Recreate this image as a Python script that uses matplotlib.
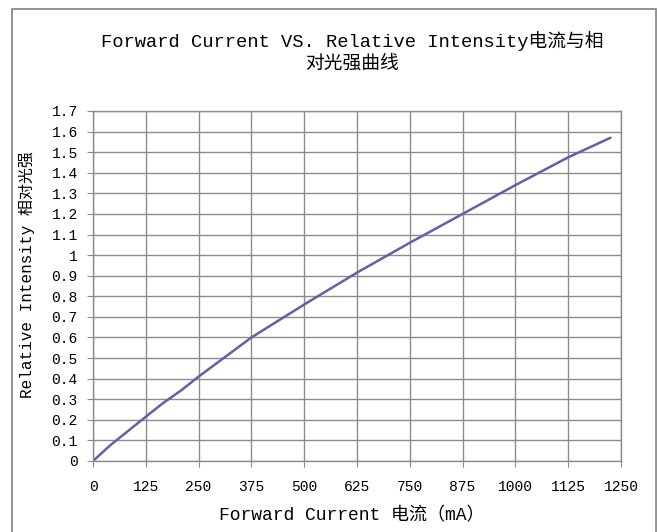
import matplotlib
matplotlib.use('Agg')
import matplotlib.pyplot as plt
from matplotlib.patches import Rectangle

# 字体：西文等宽 + 中文
plt.rcParams['font.family'] = ['Liberation Mono', 'Noto Sans CJK SC', 'DejaVu Sans']
plt.rcParams['axes.unicode_minus'] = False

# 数据
current_ma = [0, 40, 125, 165, 210, 250, 375, 500, 625, 750, 875, 1000, 1125, 1225]
rel_intensity = [0, 0.075, 0.215, 0.28, 0.345, 0.41, 0.60, 0.76, 0.915, 1.06, 1.20, 1.34, 1.475, 1.57]

x_ticks = [0, 125, 250, 375, 500, 625, 750, 875, 1000, 1125, 1250]
y_ticks = [0, 0.1, 0.2, 0.3, 0.4, 0.5, 0.6, 0.7, 0.8, 0.9, 1.0,
           1.1, 1.2, 1.3, 1.4, 1.5, 1.6, 1.7]
y_tick_labels = ['0', '0.1', '0.2', '0.3', '0.4', '0.5', '0.6', '0.7', '0.8', '0.9', '1',
                 '1.1', '1.2', '1.3', '1.4', '1.5', '1.6', '1.7']

title = 'Forward Current VS. Relative Intensity电流与相\n对光强曲线'
x_label = 'Forward Current 电流（mA）'
y_label = 'Relative Intensity 相对光强'

grid_color = '#8c8c8c'
line_color = '#5f62a8'

fig = plt.figure(figsize=(6.57, 5.32), dpi=100)
ax = fig.add_axes([93 / 657, 71 / 532, 528 / 657, 350 / 532])

ax.plot(current_ma, rel_intensity, color=line_color, lw=1.8, solid_capstyle='round')

ax.set_xlim(0, 1250)
ax.set_ylim(0, 1.7)
ax.set_xticks(x_ticks)
ax.set_xticklabels([str(v) for v in x_ticks])
ax.set_yticks(y_ticks)
ax.set_yticklabels(y_tick_labels)

ax.grid(True, color=grid_color, lw=1.0)
ax.set_axisbelow(True)
for s in ax.spines.values():
    s.set_color(grid_color)
    s.set_linewidth(1.0)

ax.tick_params(axis='y', direction='out', length=4, color=grid_color, pad=7, labelsize=10.5)
ax.tick_params(axis='x', direction='out', length=4, color=grid_color, pad=10, labelsize=10.5)

fig.text(352 / 657, 1 - 52 / 532, title, ha='center', va='center',
         fontsize=13.5, linespacing=1.35, multialignment='center')
fig.text(352 / 657, 1 - 516 / 532, x_label, ha='center', va='center', fontsize=13)
fig.text(27 / 657, 1 - 275 / 532, y_label, ha='center', va='center', rotation=90, fontsize=11.5)

# 外框
fig.add_artist(Rectangle((12 / 657, -0.1), 644 / 657, 1.1 - 9 / 532,
                         transform=fig.transFigure, fill=False,
                         edgecolor='#8a8a8a', lw=1.3, clip_on=False))

fig.savefig('out.png', dpi=100)
